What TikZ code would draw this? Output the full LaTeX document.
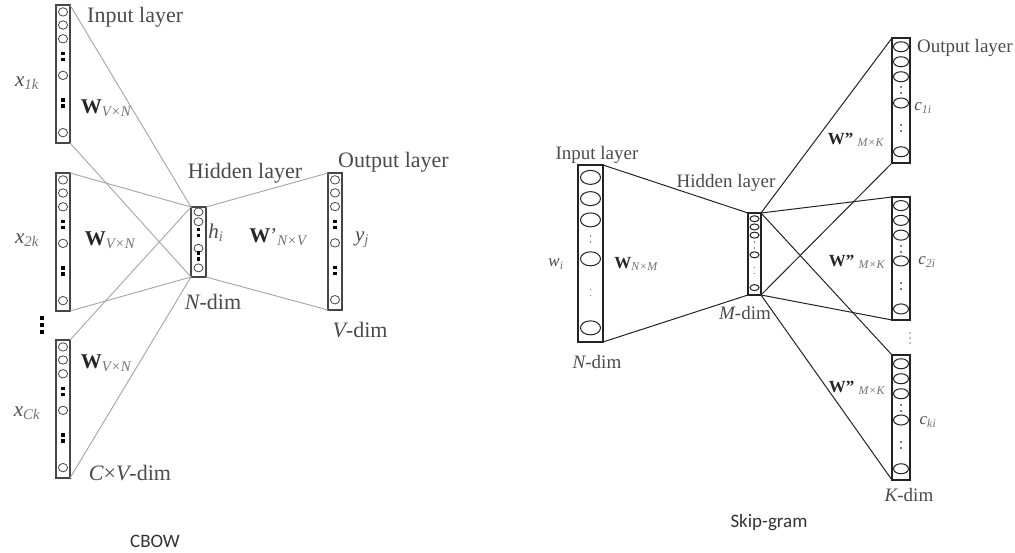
\documentclass[tikz,border=0pt]{standalone}
\usepackage{fontspec}
\setmainfont{Liberation Serif}
\newfontfamily\capfont{Carlito}
\usetikzlibrary{calc}
\definecolor{boxgray}{RGB}{70,70,70}
\definecolor{linkgray}{RGB}{165,165,165}
\definecolor{txtgray}{RGB}{75,75,75}
\definecolor{subgray}{RGB}{115,115,115}
\definecolor{darkline}{RGB}{35,35,35}

% italic grey subscript
\newcommand{\lsub}[1]{\textsubscript{\itshape\color{subgray}#1}}
% units inside a layer box: box, circle fractions, dot fractions, rx, ry, dot half size
\newcommand{\units}[6]{%
  \foreach \f in {#2}
    \draw[unit] ($(#1.north)!\f!(#1.south)$) ellipse (#4pt and #5pt);
  \foreach \f in {#3} {
    \fill[dotc] ($(#1.north)!\f!(#1.south)+(0,3)$) ++(-#6,-#6) rectangle ++(2*#6,2*#6);
    \fill[dotc] ($(#1.north)!\f!(#1.south)-(0,3)$) ++(-#6,-#6) rectangle ++(2*#6,2*#6);
  }%
}

\tikzset{
  cbowbox/.style={draw=boxgray, line width=1.1pt, inner sep=0pt, outer sep=0pt},
  skipbox/.style={draw=darkline, line width=1.1pt, inner sep=0pt, outer sep=0pt},
  cbowlink/.style={draw=linkgray, line width=0.9pt},
  skiplink/.style={draw=darkline, line width=1pt},
  cbowtxt/.style={font=\fontsize{22}{24}\selectfont, text=txtgray, inner sep=0pt},
  skiptxt/.style={font=\fontsize{19}{21}\selectfont, text=txtgray, inner sep=0pt},
  cbowvar/.style={font=\fontsize{21}{23}\selectfont, text=txtgray, inner sep=0pt},
  skipvar/.style={font=\fontsize{17}{19}\selectfont, text=txtgray, inner sep=0pt},
  captxt/.style={font=\capfont\fontsize{19}{21}\selectfont, text=black!80, inner sep=0pt},
}

\begin{document}
\begin{tikzpicture}[x=1pt, y=-1pt]
  \useasboundingbox[fill=white] (0,0) rectangle (1015,553);

  % ---------------- CBOW ----------------
  % layer boxes
  \node[cbowbox, minimum width=14pt, minimum height=138pt] (in1) at (63,74) {};
  \node[cbowbox, minimum width=14pt, minimum height=138pt] (in2) at (63,242) {};
  \node[cbowbox, minimum width=14pt, minimum height=138pt] (inC) at (63,409) {};
  \node[cbowbox, minimum width=15pt, minimum height=70pt] (hid) at (198.5,242) {};
  \node[cbowbox, minimum width=14pt, minimum height=137pt] (out) at (335,241.5) {};

  % units
  \begin{scope}[unit/.style={draw=boxgray, line width=0.8pt}, dotc/.style={fill=black}]
    \foreach \b in {in1,in2,inC,out} {
      \units{\b}{0.05,0.145,0.245,0.51,0.925}{0.375,0.71}{4.6}{4.2}{1.6}
    }
    \units{hid}{0.07,0.21,0.59,0.87}{0.36,0.70}{4.5}{4}{1.6}
  \end{scope}
  % vertical dots between the inputs
  \foreach \y in {318,325,332}
    \fill[black] (40.3,\y-1.7) rectangle ++(3.4,3.4);

  % connections
  \foreach \b in {in1,in2,inC} {
    \draw[cbowlink] (\b.north east) -- (hid.north west);
    \draw[cbowlink] (\b.south east) -- (hid.south west);
  }
  \draw[cbowlink] (hid.north east) -- (out.north west);
  \draw[cbowlink] (hid.south east) -- (out.south west);

  % labels
  \node[cbowtxt, anchor=west] (inlbl) at (87,17) {Input layer};
  \node[cbowtxt] (hidlbl) at (245,173) {Hidden layer};
  \node[cbowtxt, anchor=west] (outlbl) at (338,162) {Output layer};
  \node[cbowvar] (x1) at (27,83) {{\itshape x}\lsub{1k}};
  \node[cbowvar] (x2) at (27,240) {{\itshape x}\lsub{2k}};
  \node[cbowvar] (xC) at (27,413) {{\itshape x}\lsub{Ck}};
  \node[cbowvar] (w1) at (106,108) {\textbf{\color{black!85}W}\lsub{V×N}};
  \node[cbowvar] (w2) at (110,240) {\textbf{\color{black!85}W}\lsub{V×N}};
  \node[cbowvar] (w3) at (106,363) {\textbf{\color{black!85}W}\lsub{V×N}};
  \node[cbowvar] (hi) at (216,233) {{\itshape h}\lsub{i}};
  \node[cbowvar] (wp) at (278,237) {\textbf{\color{black!85}W}'\lsub{N×V}};
  \node[cbowvar] (yj) at (362,240) {{\itshape y}\lsub{j}};
  \node[cbowtxt] (ndim) at (213,302) {{\itshape N}-dim};
  \node[cbowtxt] (vdim) at (360,330) {{\itshape V}-dim};
  \node[cbowtxt] (cvdim) at (130,473) {{\itshape C}×{\itshape V}-dim};
  \node[captxt] (cbowcap) at (155,541) {CBOW};

  % ---------------- Skip-gram ----------------
  % layer boxes
  \node[skipbox, minimum width=25pt, minimum height=177pt] (skin) at (590.5,253.5) {};
  \node[skipbox, minimum width=13pt, minimum height=82pt] (skhid) at (754.5,254) {};
  \node[skipbox, minimum width=18pt, minimum height=125pt] (sko1) at (901,100.5) {};
  \node[skipbox, minimum width=18pt, minimum height=123pt] (sko2) at (901,258.5) {};
  \node[skipbox, minimum width=18pt, minimum height=125pt] (sko3) at (901,417.5) {};

  % units
  \begin{scope}[unit/.style={draw=darkline, line width=1pt}, dotc/.style={fill=gray}]
    \units{skin}{0.07,0.19,0.31,0.53,0.92}{0.42,0.72}{10}{7}{0.9}
    \units{skhid}{0.07,0.17,0.27,0.51,0.91}{0.39,0.70}{4.5}{3}{0.8}
    \foreach \b in {sko1,sko2,sko3} {
      \units{\b}{0.07,0.19,0.31,0.52,0.91}{0.42,0.72}{7.5}{5}{1}
    }
  \end{scope}
  % vertical dots between the outputs
  \foreach \y in {333,338,343}
    \fill[gray] (910,\y) circle (0.8pt);

  % connections
  \draw[skiplink] (skin.north east) -- (skhid.north west);
  \draw[skiplink] (skin.south east) -- (skhid.south west);
  \foreach \b in {sko1,sko2,sko3} {
    \draw[skiplink] (skhid.north east) -- (\b.north west);
    \draw[skiplink] (skhid.south east) -- (\b.south west);
  }

  % labels
  \node[skiptxt] (skinlbl) at (597,155) {Input layer};
  \node[skiptxt] (skhidlbl) at (726,183) {Hidden layer};
  \node[skiptxt, anchor=west] (skoutlbl) at (917,48) {Output layer};
  \node[skipvar] (wi) at (556,264) {{\itshape w}\lsub{i}};
  \node[skipvar] (wnm) at (636,264) {\textbf{\color{black!85}W}\lsub{N×M}};
  \node[skiptxt] (skndim) at (597,362) {{\itshape N}-dim};
  \node[skiptxt] (mdim) at (745,313) {{\itshape M}-dim};
  \node[skipvar] (c1) at (923,108) {{\itshape c}\lsub{1i}};
  \node[skipvar] (c2) at (927,262) {{\itshape c}\lsub{2i}};
  \node[skipvar] (ck) at (928,422) {{\itshape c}\lsub{ki}};
  \node[skipvar] (wk1) at (856,140) {\textbf{\color{black!85}W"} \lsub{M×K}};
  \node[skipvar] (wk2) at (857,262) {\textbf{\color{black!85}W"} \lsub{M×K}};
  \node[skipvar] (wk3) at (857,388) {\textbf{\color{black!85}W"} \lsub{M×K}};
  \node[skiptxt] (kdim) at (909,495) {{\itshape K}-dim};
  \node[captxt] (skipcap) at (769,523) {Skip-gram};
\end{tikzpicture}
\end{document}
